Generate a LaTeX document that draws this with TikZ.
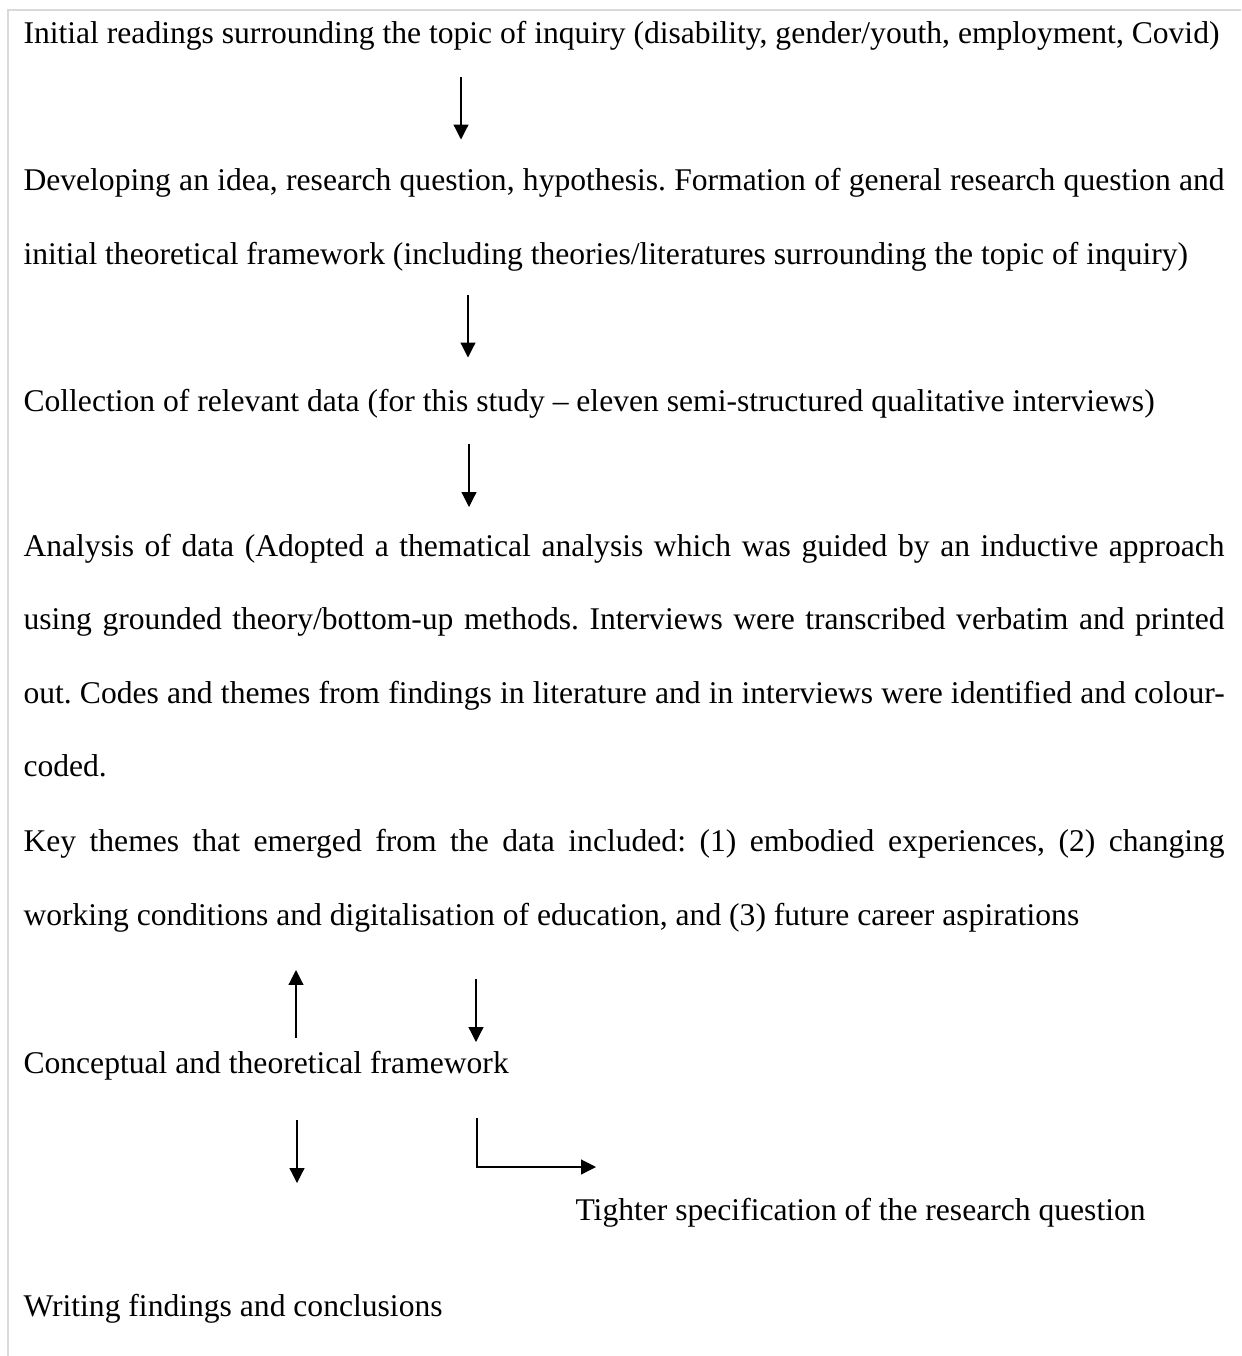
\documentclass[tikz,border=0pt]{standalone}
\usepackage{fontspec}
\setmainfont{Liberation Serif}
\usetikzlibrary{arrows.meta}
\frenchspacing

\definecolor{cellgray}{RGB}{217,217,217}

\tikzset{
  txt/.style={anchor=base west, inner sep=0pt, font=\fontsize{11.85pt}{27.6pt}\selectfont},
  para/.style={txt, text width=450.4pt, align=justify},
  arr/.style={-{Triangle[length=5.6pt,width=5.6pt]}, line width=0.45pt},
}

\begin{document}
\begin{tikzpicture}[x=0.375pt, y=-0.375pt]
    \useasboundingbox (0,0) rectangle (1241,1356);
    % Cell frame
    \draw[cellgray, line width=0.75pt] (8,1356) -- (8,10) -- (1241,10);

    % Steps of the research
    \node[txt] (read) at (23,43) {Initial readings surrounding the topic of inquiry (disability, gender/youth, employment, Covid)};
    \node[para] (idea) at (23,190.5) {Developing an idea, research question, hypothesis. Formation of general research question and\linebreak
        initial theoretical framework (including theories/literatures surrounding the topic of inquiry)};
    \node[txt] (data) at (23,411.5) {Collection of relevant data (for this study -- eleven semi-structured qualitative interviews)};
    \node[para] (anal) at (23,556) {Analysis of data (Adopted a thematical analysis which was guided by an inductive approach\linebreak
        using grounded theory/bottom-up methods. Interviews were transcribed verbatim and printed\linebreak
        out. Codes and themes from findings in literature and in interviews were identified and colour-\linebreak
        coded.};
    \node[para] (keys) at (23,851.5) {Key themes that emerged from the data included: (1) embodied experiences, (2) changing\linebreak
        working conditions and digitalisation of education, and (3) future career aspirations};
    \node[txt] (frame) at (23,1073) {Conceptual and theoretical framework};
    \node[txt] (tight) at (575,1220) {Tighter specification of the research question};
    \node[txt] (write) at (23,1316.5) {Writing findings and conclusions};

    % Arrows
    \coordinate (a1) at (461,77);     \coordinate (b1) at (461,139.5);
    \coordinate (a2) at (468,294.5);  \coordinate (b2) at (468,357.5);
    \coordinate (a3) at (469,444);    \coordinate (b3) at (469,507);
    \coordinate (a4) at (296,1038);   \coordinate (b4) at (296,970);
    \coordinate (a5) at (476,979);    \coordinate (b5) at (476,1042);
    \coordinate (a6) at (297,1120);   \coordinate (b6) at (297,1183);
    \coordinate (a7) at (477,1118);   \coordinate (b7) at (596,1167);
    \draw[arr] (a1) -- (b1);
    \draw[arr] (a2) -- (b2);
    \draw[arr] (a3) -- (b3);
    \draw[arr] (a4) -- (b4);
    \draw[arr] (a5) -- (b5);
    \draw[arr] (a6) -- (b6);
    \draw[arr] (a7) |- (b7);
\end{tikzpicture}
\end{document}
